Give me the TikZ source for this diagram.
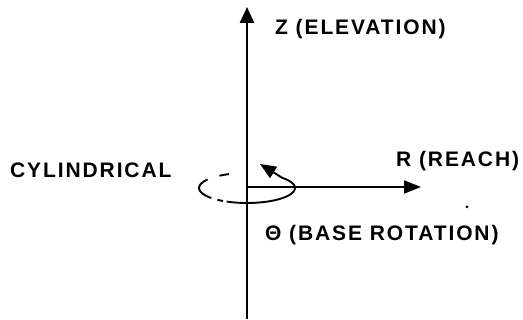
\documentclass[tikz,border=0pt]{standalone}
\usepackage{fontspec}
\newfontfamily\lblfont{Liberation Sans}[LetterSpace=9]
\usetikzlibrary{arrows.meta}
\tikzset{
  lbl/.style={font=\lblfont\bfseries\fontsize{21}{24}\selectfont, inner sep=0pt, anchor=base west},
  axis/.style={line width=2.4pt},
  ring/.style={line width=1.9pt},
}
\begin{document}
\begin{tikzpicture}[x=1pt,y=1pt]
\useasboundingbox (0,0) rectangle (523,320);
% axes
\coordinate (zb) at (247,1);
\coordinate (zt) at (247,313);
\coordinate (o) at (247,133);
\coordinate (rt) at (421,133);
\draw[axis,-{Triangle[length=16pt,width=14pt]}] (zb) -- (zt);
\draw[line width=2pt,-{Triangle[length=17pt,width=13pt]}] (o) -- (rt);
% rotation ellipse
\coordinate (c) at (247,132);
\coordinate (tip) at (260,156);
\draw[ring,-{Triangle[length=16pt,width=13pt]}]
  ([shift={(-115:48 and 15)}]c) arc[start angle=-115,end angle=43,x radius=48,y radius=15] -- (tip);
\draw[ring] ([shift={(112:48 and 15)}]c) arc[start angle=112,end angle=125,x radius=48,y radius=15];
\draw[ring] ([shift={(145:48 and 15)}]c) arc[start angle=145,end angle=222,x radius=48,y radius=15];
\draw[ring] ([shift={(232:48 and 15)}]c) arc[start angle=232,end angle=240,x radius=48,y radius=15];
% dot
\fill (467,113) circle (1.5);
% labels
\node[lbl] (zl) at (275,285) {Z (ELEVATION)};
\node[lbl] (rl) at (396,153) {R (REACH)};
\node[lbl] (tl) at (265,79) {Θ (BASE ROTATION)};
\node[lbl] (cl) at (10,142) {CYLINDRICAL};
\end{tikzpicture}
\end{document}
